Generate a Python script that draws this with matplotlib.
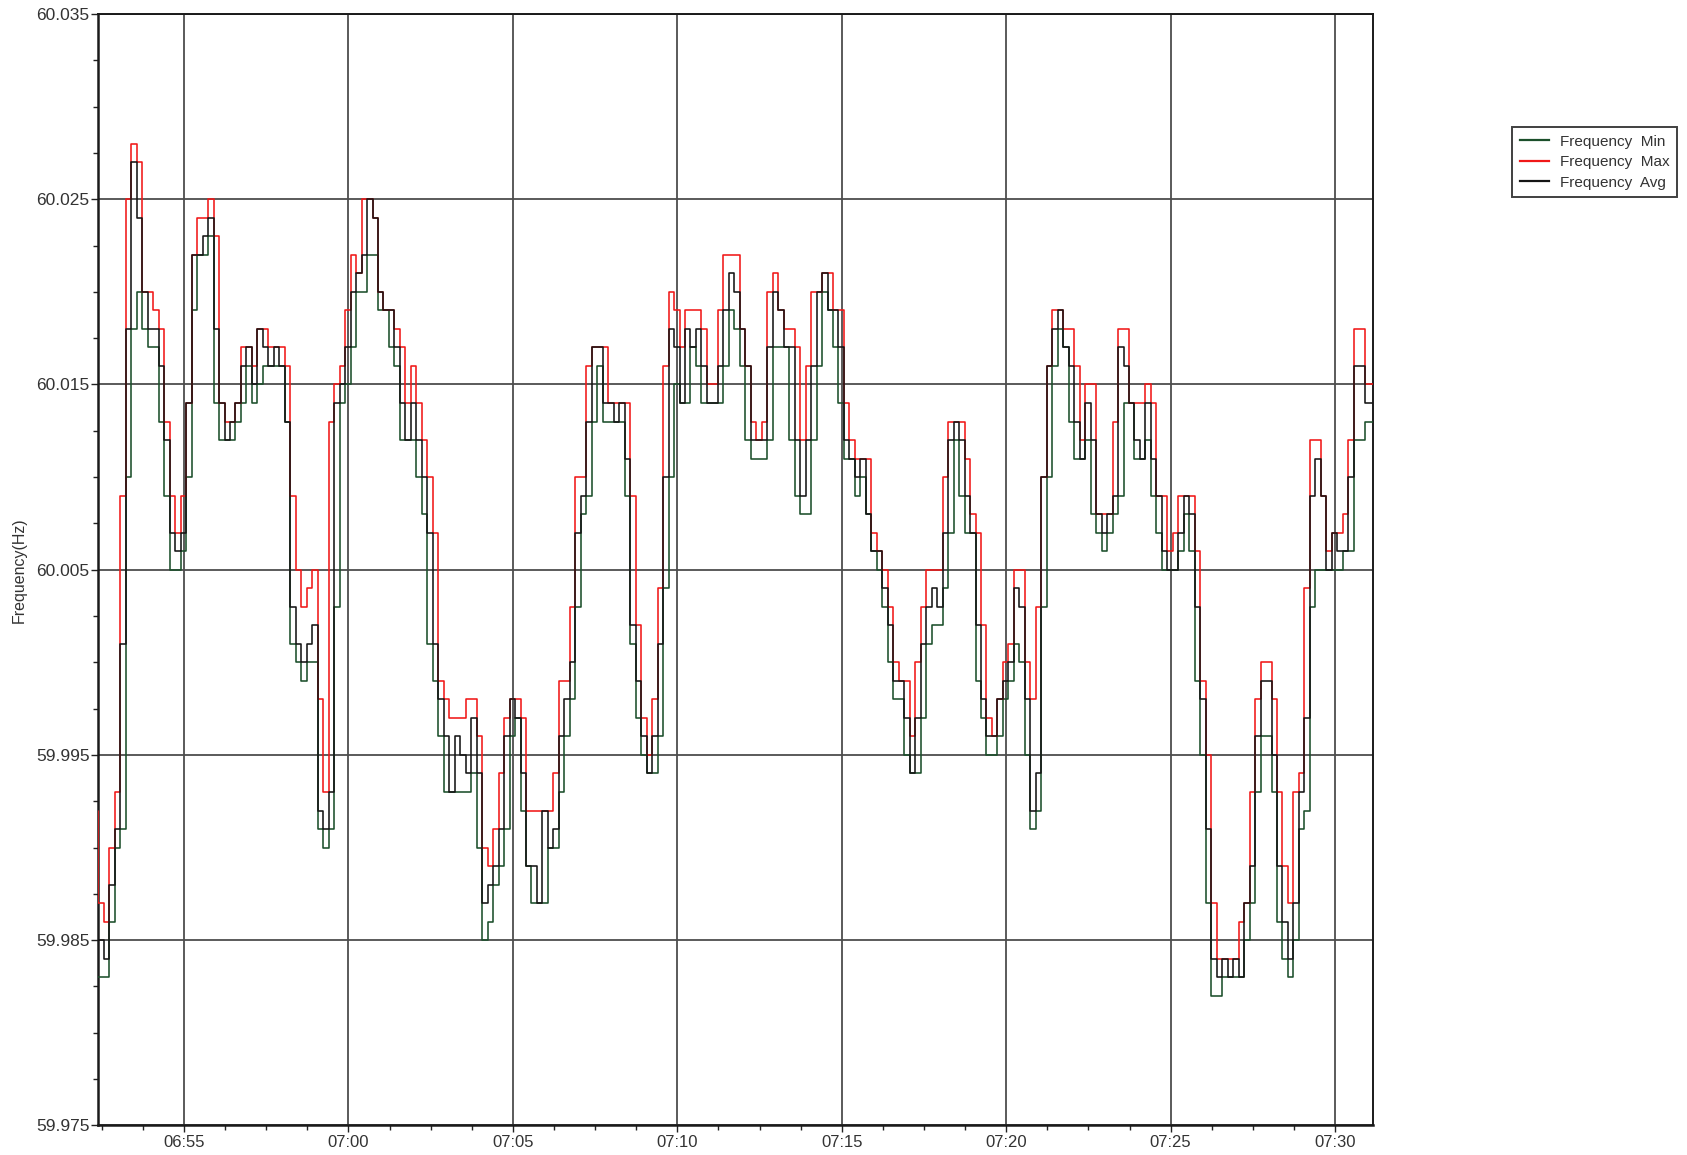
import numpy as np
import matplotlib
matplotlib.use("Agg")
import matplotlib.pyplot as plt
import matplotlib.dates as mdates
from matplotlib.ticker import FixedLocator
from datetime import datetime, timedelta

# Recorder settings: 10-second records starting at 06:52:24
start_time = datetime(2000, 1, 1, 6, 52, 24)
sample_seconds = 10
view_end = datetime(2000, 1, 1, 7, 31, 9)

# Frequency deviation from 60 Hz in mHz, one value per 10-s record
freq_avg = [
    -15, -16, -12, -9, 1, 18, 27, 24, 20, 18,
    18, 16, 12, 7, 6, 7, 14, 22, 22, 23,
    24, 18, 14, 12, 13, 14, 16, 17, 15, 18,
    17, 16, 17, 16, 13, 3, 1, 0, 1, 2,
    -8, -9, -7, 14, 15, 17, 20, 21, 22, 25,
    24, 20, 19, 19, 17, 14, 12, 14, 12, 10,
    7, 1, -2, -4, -7, -4, -5, -6, -3, -6,
    -13, -12, -11, -9, -4, -2, -3, -6, -11, -11,
    -13, -8, -10, -9, -4, -2, 0, 7, 9, 13,
    17, 17, 14, 14, 13, 14, 11, 2, -1, -4,
    -6, -4, 1, 10, 18, 17, 14, 18, 17, 18,
    16, 14, 14, 16, 19, 21, 20, 18, 16, 12,
    12, 12, 17, 20, 19, 17, 17, 12, 9, 12,
    16, 20, 21, 19, 19, 17, 12, 11, 10, 11,
    8, 6, 6, 4, 2, -1, -1, -3, -6, -3,
    1, 3, 4, 3, 7, 12, 13, 12, 9, 7,
    2, -2, -4, -4, -2, -1, 0, 4, 3, -2,
    -8, -6, 10, 16, 18, 19, 17, 16, 13, 11,
    14, 12, 8, 7, 8, 9, 17, 16, 14, 12,
    11, 14, 11, 9, 6, 5, 5, 7, 9, 8,
    3, -2, -9, -16, -17, -16, -17, -16, -17, -13,
    -11, -4, -1, -1, -5, -11, -14, -16, -13, -7,
    -3, 9, 11, 9, 5, 7, 6, 6, 10, 16,
    16, 14, 14,
]

freq_max = [
    -13, -14, -10, -7, 9, 25, 28, 27, 20, 20,
    19, 18, 13, 9, 7, 9, 14, 22, 24, 24,
    25, 23, 14, 13, 13, 14, 17, 17, 16, 18,
    18, 17, 17, 17, 16, 9, 5, 3, 4, 5,
    -2, -7, 13, 15, 16, 19, 22, 21, 25, 25,
    24, 20, 19, 19, 18, 17, 14, 16, 14, 12,
    10, 7, -1, -2, -3, -3, -3, -2, -2, -4,
    -10, -11, -9, -6, -3, -2, -2, -3, -8, -8,
    -8, -8, -8, -6, -1, -1, 3, 10, 10, 16,
    17, 17, 17, 14, 14, 14, 14, 9, 2, -3,
    -5, -2, 4, 16, 20, 19, 17, 19, 19, 19,
    18, 15, 15, 19, 22, 22, 22, 18, 16, 13,
    12, 13, 20, 21, 19, 18, 18, 17, 12, 16,
    20, 20, 21, 21, 19, 19, 14, 12, 11, 11,
    11, 7, 6, 5, 3, 0, -1, -1, -4, 0,
    3, 5, 5, 5, 10, 13, 13, 13, 11, 8,
    7, 2, -3, -4, -2, 0, 1, 5, 5, 0,
    -2, 3, 10, 16, 19, 19, 18, 18, 16, 12,
    15, 15, 8, 8, 8, 13, 18, 18, 14, 14,
    14, 15, 14, 9, 9, 6, 7, 9, 9, 9,
    6, -1, -5, -13, -16, -16, -16, -16, -14, -13,
    -7, -2, 0, 0, -2, -7, -11, -13, -7, -6,
    4, 12, 12, 9, 6, 7, 7, 8, 12, 18,
    18, 15, 15,
]
# Max channel in the record just before the first one shown
freq_max_prev = -8

freq_min = [
    -17, -17, -14, -10, -9, 10, 18, 20, 18, 17,
    17, 13, 9, 5, 5, 6, 10, 19, 22, 22,
    23, 14, 12, 12, 12, 13, 14, 16, 14, 15,
    16, 16, 16, 16, 13, 1, 0, -1, 0, 0,
    -9, -10, -9, 3, 14, 15, 17, 20, 20, 22,
    22, 19, 19, 17, 16, 12, 12, 12, 10, 8,
    1, -1, -4, -7, -7, -7, -7, -7, -6, -10,
    -15, -14, -12, -11, -9, -4, -3, -8, -11, -13,
    -13, -13, -10, -10, -7, -4, -2, 3, 8, 9,
    13, 16, 13, 13, 13, 13, 9, 1, -3, -5,
    -6, -6, -4, 4, 10, 15, 14, 14, 17, 16,
    14, 14, 14, 14, 16, 19, 18, 16, 12, 11,
    11, 11, 12, 17, 17, 17, 12, 9, 8, 8,
    12, 16, 20, 19, 17, 14, 11, 11, 9, 10,
    8, 6, 5, 3, 0, -2, -2, -5, -6, -6,
    -3, 1, 2, 2, 4, 7, 12, 9, 7, 7,
    -1, -3, -5, -5, -4, -2, -1, 1, 0, -5,
    -9, -8, 3, 10, 16, 18, 17, 13, 11, 11,
    12, 8, 7, 6, 7, 8, 9, 14, 14, 11,
    11, 12, 9, 7, 5, 5, 5, 6, 8, 6,
    -1, -5, -13, -18, -18, -17, -17, -17, -17, -15,
    -13, -7, -4, -4, -7, -14, -16, -17, -15, -9,
    -8, 3, 5, 5, 5, 5, 5, 6, 6, 12,
    12, 13, 13,
]

y_ticks = [59.975, 59.985, 59.995, 60.005, 60.015, 60.025, 60.035]
y_tick_labels = ["59.975", "59.985", "59.995", "60.005", "60.015", "60.025", "60.035"]

series_labels = ["Frequency  Min", "Frequency  Max", "Frequency  Avg"]
series_colors = ["#1b4f2b", "#f01818", "#151515"]

plt.rcParams["font.family"] = ["Liberation Sans", "DejaVu Sans"]


def to_hz(dev_mhz):
    return 60.0 + np.asarray(dev_mhz, dtype=float) / 1000.0


n = len(freq_avg)
step = timedelta(seconds=sample_seconds)
edges = [start_time + step * i for i in range(n + 1)]


def closed(values):
    # repeat the last value so the final record is drawn over its full interval
    v = to_hz(values)
    return np.append(v, v[-1])


fig = plt.figure(figsize=(16.87, 11.55), dpi=100)
ax = fig.add_axes([0.05803, 0.02563, 0.7558, 0.96225])

lw = 1.15
h_min, = ax.plot(edges, closed(freq_min), drawstyle="steps-post",
                 color=series_colors[0], lw=lw, zorder=3)
h_max, = ax.plot([start_time - step] + edges,
                 np.concatenate([to_hz([freq_max_prev]), closed(freq_max)]),
                 drawstyle="steps-post", color=series_colors[1], lw=lw, zorder=4)
h_avg, = ax.plot(edges, closed(freq_avg), drawstyle="steps-post",
                 color=series_colors[2], lw=lw, zorder=5)

ax.set_xlim(start_time - timedelta(seconds=1), view_end)
ax.set_ylim(y_ticks[0], y_ticks[-1])

# y axis
ax.yaxis.set_major_locator(FixedLocator(y_ticks))
ax.set_yticklabels(y_tick_labels)
ax.yaxis.set_minor_locator(FixedLocator(np.arange(59.975, 60.0351, 0.0025)))

# x axis: labels every 5 minutes, minor ticks every 75 s
ax.xaxis.set_major_locator(mdates.MinuteLocator(byminute=range(0, 60, 5)))
ax.xaxis.set_major_formatter(mdates.DateFormatter("%H:%M"))
minor_start = datetime(2000, 1, 1, 6, 52, 30)
minor_times = [minor_start + timedelta(seconds=75 * i) for i in range(32)]
ax.xaxis.set_minor_locator(FixedLocator(mdates.date2num(minor_times)))

ax.tick_params(axis="both", which="major", direction="out", length=5,
               width=1.0, color="#222222", labelcolor="#333333")
ax.tick_params(axis="both", which="minor", direction="out", length=3.5,
               width=1.0, color="#222222")
ax.tick_params(axis="y", labelsize=12.5, pad=1)
ax.tick_params(axis="x", labelsize=12, pad=2)

ax.grid(True, which="major", color="#4d4d4d", lw=1.3)
ax.set_axisbelow(True)

for name, sp in ax.spines.items():
    sp.set_color("#1a1a1a")
    sp.set_linewidth(1.8 if name in ("left", "bottom") else 1.4)

ax.set_ylabel("Frequency(Hz)", fontsize=11.5, color="#333333")
ax.yaxis.set_label_coords(-0.0555, 0.5)

leg = fig.legend([h_min, h_max, h_avg], series_labels,
                 loc="upper left", bbox_to_anchor=(0.8962, 0.890),
                 fontsize=11, frameon=True, fancybox=False,
                 handlelength=1.9, handletextpad=0.75, borderpad=0.5,
                 labelspacing=0.43, borderaxespad=0)
leg.get_frame().set_edgecolor("#111111")
leg.get_frame().set_linewidth(1.4)
for txt in leg.get_texts():
    txt.set_color("#333333")
for lh in leg.legend_handles:
    lh.set_linewidth(1.6)

fig.savefig("out.png", dpi=100, facecolor="white")
